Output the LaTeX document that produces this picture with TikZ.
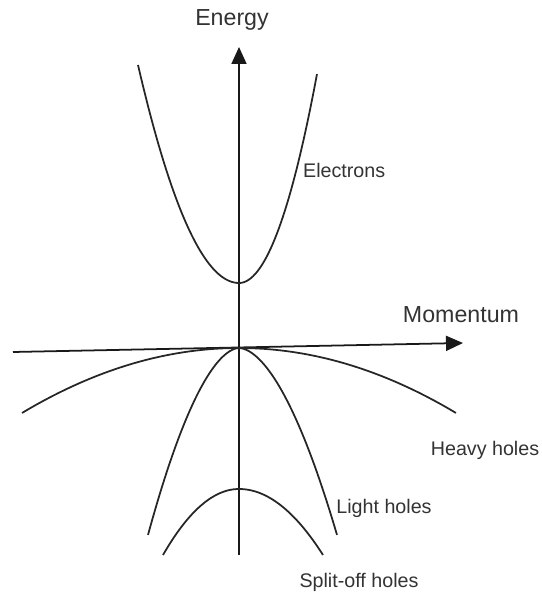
\documentclass[tikz,border=0pt]{standalone}
\usepackage{fontspec}
\setmainfont{Liberation Sans}
\usetikzlibrary{arrows.meta}

\begin{document}
\begin{tikzpicture}[scale=1,
    band/.style={line width=1.25pt, black!85},
    lbl/.style={black!80, font=\fontsize{14}{16}\selectfont},
    axlbl/.style={black!80, font=\fontsize{16.5}{19}\selectfont}]
    \useasboundingbox (-5.975, -6.175) rectangle (7.55, 8.7);

    % Axes
    \coordinate (eb) at (0, -5.175);
    \coordinate (et) at (0, 7.525);
    \coordinate (kl) at (-5.65, -0.1);
    \coordinate (kr) at (5.6, 0.125);
    \draw[line width=1.25pt, black!90, -{Triangle[width=3.75mm, length=4.25mm]}] (eb) -- (et);
    \draw[line width=1.25pt, black!90, -{Triangle[width=3.75mm, length=4.25mm]}] (kl) -- (kr);
    \node[axlbl] (energy) at (-0.175, 8.2) {Energy};
    \node[axlbl] (momentum) at (5.55, 0.825) {Momentum};

    % Conduction band
    \draw[band, domain=-2.525:0, samples=40] plot (\x, {1.625 + 0.855*\x*\x});
    \draw[band, domain=0:1.95, samples=40] plot (\x, {1.625 + 1.374*\x*\x});
    \node[lbl, anchor=west] (elec) at (1.48, 4.45) {Electrons};

    % Valence bands
    \draw[band, domain=-5.425:5.425, samples=60] plot (\x, {-0.0552*\x*\x});
    \draw[band, domain=-2.275:0, samples=40] plot (\x, {-1.082*abs(\x)^1.78});
    \draw[band, domain=0:2.45, samples=40] plot (\x, {-0.948*abs(\x)^1.78});
    \draw[band, domain=-1.9:0, samples=40] plot (\x, {-3.525 - 0.457*\x*\x});
    \draw[band, domain=0:2.1, samples=40] plot (\x, {-3.525 - 0.374*\x*\x});

    \node[lbl] (heavy) at (6.15, -2.55) {Heavy holes};
    \node[lbl] (light) at (3.625, -4.0) {Light holes};
    \node[lbl] (split) at (3.0, -5.85) {Split-off holes};
\end{tikzpicture}
\end{document}
